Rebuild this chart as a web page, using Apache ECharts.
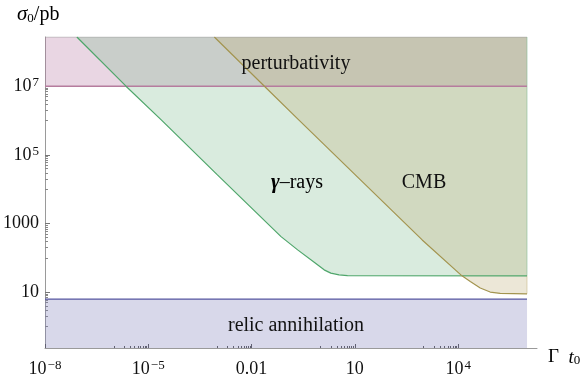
<!DOCTYPE html>
<html>
<head>
<meta charset="utf-8">
<script src="https://cdn.jsdelivr.net/npm/echarts@6/dist/echarts.min.js"></script>
<style>
html,body{margin:0;padding:0;background:#fff;}
#chart{width:581px;height:381px;}
</style>
</head>
<body>
<div id="chart"></div>
<script>
// ---- axis ranges (Gamma t0 and sigma0/pb, real values) ----
const xMin = 1e-8;
const xMax = Math.pow(10, 6.29);
const yMin = Math.pow(10, -0.625);
const yMax = Math.pow(10, 8.433);
const regionXEnd = 1e6;

// ---- tick labels ----
const xTickValues = [1e-8, 1e-5, 0.01, 10, 1e4];
const xTickLabels = ['10^−8', '10^−5', '0.01', '10', '10^4'];
const yTickValues = [10, 1000, 1e5, 1e7];
const yTickLabels = ['10', '1000', '10^5', '10^7'];

// ---- regions ----
const perturbX = [1e-8, 1e6];
const perturbY = [1e7, 1e7];

const gammaX = [8.43e-8, 2.25e-6, 2.42e-5, 1e-3, 0.0718, 0.218, 0.659, 1.28, 2.0, 3.48, 6.1, 1e6];
const gammaY = [2.71e8, 1e7, 1.03e6, 2.65e4, 416, 171, 75, 44.8, 35.9, 32.1, 30.5, 30];

const cmbX = [8.28e-4, 0.0236, 0.238, 902, 1.29e4, 2.25e4, 4.38e4, 8.5e4, 1.66e5, 1e6];
const cmbY = [2.71e8, 1e7, 1.03e6, 333, 30, 20.5, 13.2, 10.1, 9.2, 9.0];

const relicX = [1e-8, 1e6];
const relicY = [6.3, 6.3];

// ---- helpers ----
const L = Math.log10;
function pts(xs, ys) { return xs.map((x, i) => [L(x), L(ys[i])]); }
function minorTicks(majors, lo, hi) {
  const out = [];
  majors.forEach(m => {
    const e = Math.round(L(m)) - 1;
    for (let k = 1; k <= 9; k++) {
      const v = e + L(k);
      if (v >= lo && v <= hi) out.push(v);
    }
  });
  return out;
}
const FONT = "'Liberation Serif', 'DejaVu Serif', serif";
const TXT = '#111';
function fmt(lbl) {
  const p = lbl.split('^');
  return p.length === 1 ? '{n|' + p[0] + '}' : '{n|' + p[0] + '}{s|' + p[1] + '}';
}
function labelFor(values, labels) {
  return function (v) {
    for (let i = 0; i < values.length; i++) {
      if (Math.abs(L(values[i]) - v) < 1e-6) return fmt(labels[i]);
    }
    return '';
  };
}
const rich = {
  n: { fontSize: 18, fontFamily: FONT, color: TXT, lineHeight: 20 },
  s: { fontSize: 13, fontFamily: FONT, color: TXT, verticalAlign: 'top', lineHeight: 12, padding: [0, 0, 8, 1] }
};

const xLo = L(xMin), xHi = L(xMax), yLo = L(yMin), yHi = L(yMax);
const xMajor = xTickValues.map(L);
const yMajor = yTickValues.map(L);
const xMinor = minorTicks(xTickValues, xLo, xHi);
const yMinor = minorTicks(yTickValues, yLo, yHi);

function fillSeries(data, color, origin) {
  return {
    type: 'line', data: data, symbol: 'none', silent: true, z: 1,
    lineStyle: { width: 0, opacity: 0 },
    areaStyle: { color: color, origin: origin, opacity: 1 }
  };
}
function lineSeries(data, color, width) {
  return {
    type: 'line', data: data, symbol: 'none', silent: true, z: 3,
    lineStyle: { color: color, width: width || 1.2 }
  };
}

const perturbData = pts(perturbX, perturbY);
const gammaData = pts(gammaX, gammaY);
const cmbData = pts(cmbX, cmbY);
const relicData = pts(relicX, relicY);

const baseAxis = { type: 'value', splitLine: { show: false } };
const chart = echarts.init(document.getElementById('chart'), null, { renderer: 'canvas' });
const option = {
  animation: false,
  backgroundColor: '#ffffff',
  grid: { left: 43, right: 44, top: 37, bottom: 33, containLabel: false },
  xAxis: [
    Object.assign({}, baseAxis, {
      min: xLo, max: xHi, position: 'bottom',
      axisLine: { show: true, onZero: false, lineStyle: { color: '#9a9a9a', width: 1 } },
      axisTick: { show: true, inside: true, length: 4, customValues: xMajor, lineStyle: { color: '#555' } },
      axisLabel: { customValues: xMajor, formatter: labelFor(xTickValues, xTickLabels), rich: rich, margin: 11 }
    }),
    Object.assign({}, baseAxis, {
      min: xLo, max: xHi, position: 'bottom',
      axisLine: { show: false, onZero: false },
      axisTick: { show: true, inside: true, length: 2, customValues: xMinor, lineStyle: { color: '#555' } },
      axisLabel: { show: false }
    })
  ],
  yAxis: [
    Object.assign({}, baseAxis, {
      min: yLo, max: yHi, position: 'left',
      axisLine: { show: true, onZero: false, lineStyle: { color: '#9a9a9a', width: 1 } },
      axisTick: { show: true, inside: true, length: 5, customValues: yMajor, lineStyle: { color: '#777' } },
      axisLabel: { customValues: yMajor, formatter: labelFor(yTickValues, yTickLabels), rich: rich, margin: 6 }
    }),
    Object.assign({}, baseAxis, {
      min: yLo, max: yHi, position: 'left',
      axisLine: { show: false, onZero: false },
      axisTick: { show: true, inside: true, length: 3, customValues: yMinor, lineStyle: { color: '#888' } },
      axisLabel: { show: false }
    })
  ],
  series: [
    fillSeries(perturbData, 'rgba(182,118,162,0.3)', 'end'),
    fillSeries(gammaData, 'rgba(128,188,145,0.3)', 'end'),
    fillSeries(cmbData, 'rgba(192,175,122,0.3)', 'end'),
    fillSeries(relicData, 'rgba(125,125,185,0.3)', 'start'),
    // plot-range edges of the regions
    lineSeries([[L(xMin), yHi], [L(regionXEnd), yHi]], 'rgba(150,150,150,0.6)', 1),
    lineSeries([[L(regionXEnd), yHi], [L(regionXEnd), L(gammaY[gammaY.length - 1])]], 'rgba(128,188,145,0.55)', 1),
    lineSeries([[L(regionXEnd), L(gammaY[gammaY.length - 1])], [L(regionXEnd), L(cmbY[cmbY.length - 1])]], 'rgba(192,175,122,0.5)', 1),
    // boundaries
    lineSeries(perturbData, '#b67c9e', 1.5),
    lineSeries(gammaData, '#4fa66b', 1.2),
    lineSeries(cmbData, '#a3944f', 1.2),
    lineSeries(relicData, '#5656a0', 1.2)
  ],
  graphic: [
    { type: 'text', z: 100, left: 17, top: 4, style: { rich: {
        i: { fontSize: 21, fontFamily: FONT, fontStyle: 'italic', color: TXT },
        b: { fontSize: 13, fontFamily: FONT, color: TXT, verticalAlign: 'bottom', padding: [7, 0, 0, 0] },
        n: { fontSize: 20, fontFamily: FONT, color: TXT } },
      text: '{i|σ}{b|0}{n|/pb}' } },
    { type: 'text', z: 100, left: 548, top: 348, style: { rich: {
        n: { fontSize: 19, fontFamily: FONT, color: TXT },
        i: { fontSize: 19, fontFamily: FONT, fontStyle: 'italic', color: TXT },
        b: { fontSize: 13, fontFamily: FONT, color: TXT, verticalAlign: 'bottom', padding: [6, 0, 0, 0] } },
      text: '{n|Γ  }{i|t}{b|0}' } },
    { type: 'text', z: 100, x: 296, y: 64, style: { text: 'perturbativity', font: '20px ' + FONT, fill: TXT, align: 'center', verticalAlign: 'middle' } },
    { type: 'text', z: 100, x: 297, y: 183, style: { align: 'center', verticalAlign: 'middle', rich: {
        g: { fontSize: 21, fontFamily: FONT, fontStyle: 'italic', fontWeight: 'bold', color: TXT },
        n: { fontSize: 20, fontFamily: FONT, color: TXT } },
      text: '{g|γ}{n|–rays}' } },
    { type: 'text', z: 100, x: 424, y: 183, style: { text: 'CMB', font: '20px ' + FONT, fill: TXT, align: 'center', verticalAlign: 'middle' } },
    { type: 'text', z: 100, x: 296, y: 326, style: { text: 'relic annihilation', font: '20px ' + FONT, fill: TXT, align: 'center', verticalAlign: 'middle' } }
  ]
};
chart.setOption(option);
</script>
</body>
</html>
